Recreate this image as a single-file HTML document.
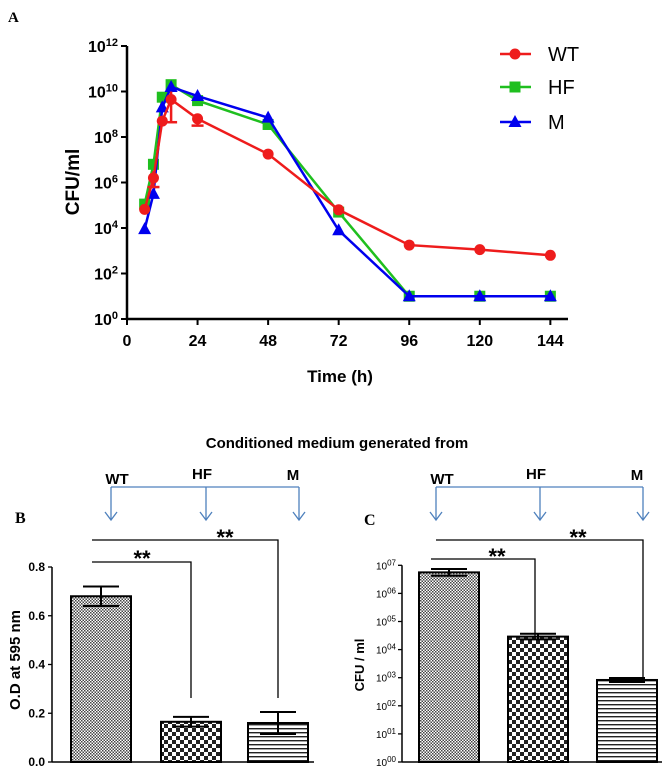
<!DOCTYPE html>
<html><head><meta charset="utf-8"><style>
body{margin:0;background:#fff;}
svg{display:block;font-family:"Liberation Sans",Arial,sans-serif;}
</style></head><body>
<svg width="672" height="769" viewBox="0 0 672 769">
<defs>
<pattern id="p1" width="3" height="3" patternUnits="userSpaceOnUse"><rect width="3" height="3" fill="#fff"/><rect width="1.5" height="1.5" fill="#444"/><rect x="1.5" y="1.5" width="1.5" height="1.5" fill="#444"/></pattern>
<pattern id="p2" width="8" height="8" patternUnits="userSpaceOnUse"><rect width="8" height="8" fill="#fff"/><rect width="4" height="4" fill="#222"/><rect x="4" y="4" width="4" height="4" fill="#222"/></pattern>
<pattern id="p3" width="6" height="4" patternUnits="userSpaceOnUse"><rect width="6" height="4" fill="#fff"/><rect width="6" height="1.4" fill="#222"/></pattern>
</defs>
<text x="8" y="22" font-family="Liberation Serif,serif" font-weight="bold" font-size="15">A</text>
<g id="chartA"></g>
<text x="15" y="523" font-family="Liberation Serif,serif" font-weight="bold" font-size="16">B</text>
<text x="364" y="525" font-family="Liberation Serif,serif" font-weight="bold" font-size="16">C</text>
<text x="337" y="448" text-anchor="middle" font-weight="bold" font-size="15">Conditioned medium generated from</text>
<g id="arrows"></g>
<g id="chartB"></g>
<g id="chartC"></g>
</svg>
<script>
// ---- Chart A data ----
const timesA=[6,9,12,15,24,48,72,96,120,144];
const wtLog=[4.82,6.2,8.7,9.65,8.8,7.25,4.8,3.25,3.05,2.8];
const hfLog=[5.05,6.8,9.75,10.3,9.6,8.55,4.7,1,1,1];
const mLog=[3.95,5.5,9.3,10.2,9.8,8.85,3.9,1,1,1];
const xTicksA=[0,24,48,72,96,120,144];
const yTicksA=[0,2,4,6,8,10,12];
// ---- Chart B data ----
const catsB=["WT","HF","M"];
const odVals=[0.68,0.165,0.16];
const odErr=[0.04,0.02,0.045];
const yTicksB=[0,0.2,0.4,0.6,0.8];
// ---- Chart C data ----
const cfuVals=[5.6e6,2.9e4,8.3e2];
const cfuErrLog=[0.12,0.1,0.07];
const yTicksC=[0,1,2,3,4,5,6,7];

const NS="http://www.w3.org/2000/svg";
function mk(p,t,a,txt){const e=document.createElementNS(NS,t);for(const k in a)e.setAttribute(k,a[k]);if(txt!==undefined)e.textContent=txt;p.appendChild(e);return e;}

// Chart A
(function(){
const g=document.getElementById('chartA');
const X=t=>127+t*2.94, Y=l=>319-l*22.75;
let e=mk(g,'line',{x1:127,y1:Y(12),x2:127,y2:319,stroke:'#000','stroke-width':2.5});

e=mk(g,'line',{x1:127,y1:319,x2:568,y2:319,stroke:'#000','stroke-width':2.5});

yTicksA.forEach(v=>{mk(g,'line',{x1:121,x2:127,y1:Y(v),y2:Y(v),stroke:'#000','stroke-width':2});
 const t=mk(g,'text',{x:118,y:Y(v)+6,'text-anchor':'end','font-weight':'bold','font-size':16});
 
 t.textContent='10';const s=mk(t,'tspan',{dy:-6,'font-size':11},String(v));});
xTicksA.forEach(v=>{mk(g,'line',{x1:X(v),x2:X(v),y1:319,y2:325,stroke:'#000','stroke-width':2});
 const t=mk(g,'text',{x:X(v),y:346,'text-anchor':'middle','font-weight':'bold','font-size':16},String(v));
 });
e=mk(g,'text',{x:340,y:382,'text-anchor':'middle','font-weight':'bold','font-size':17},'Time (h)');

e=mk(g,'text',{x:0,y:0,transform:'translate(79,182) rotate(-90)','text-anchor':'middle','font-weight':'bold','font-size':19},'CFU/ml');

const series=[[hfLog,'#1fbf1f','sq','HF'],[mLog,'#0000ee','tri','M'],[wtLog,'#ee1c1c','circ','WT']];
function marker(p,type,x,y,c){
 if(type==='circ')return mk(p,'circle',{cx:x,cy:y,r:5.5,fill:c});
 if(type==='sq')return mk(p,'rect',{x:x-5.5,y:y-5.5,width:11,height:11,fill:c});
 return mk(p,'polygon',{points:`${x},${y-7} ${x-6.5},${y+5} ${x+6.5},${y+5}`,fill:c});}
series.forEach(([d,c,m,n])=>{
 const pts=d.map((v,i)=>X(timesA[i])+','+Y(v)).join(' ');
 const pl=mk(g,'polyline',{points:pts,fill:'none',stroke:c,'stroke-width':2.5});
 
 d.forEach((v,i)=>{const mm=marker(g,m,X(timesA[i]),Y(v),c);
  });
});
// WT error bars
[[9,5.8,6.5],[15,8.65,10.0],[24,8.5,9.0]].forEach(([t,lo,hi])=>{
 mk(g,'line',{x1:X(t),x2:X(t),y1:Y(lo),y2:Y(hi),stroke:'#ee1c1c','stroke-width':2.5});
 mk(g,'line',{x1:X(t)-6,x2:X(t)+6,y1:Y(lo),y2:Y(lo),stroke:'#ee1c1c','stroke-width':2.5});});
// legend
series.slice().reverse().forEach(([d,c,m,n],i)=>{
 const y=[54,87,122][['WT','HF','M'].indexOf(n)];
 const lg=mk(g,'g',{});
 mk(lg,'line',{x1:500,x2:531,y1:y,y2:y,stroke:c,'stroke-width':2.5});
 marker(lg,m,515,y,c);
 mk(lg,'text',{x:548,y:y+7,'font-size':20},n);});
})();

// Arrows
(function(){
const g=document.getElementById('arrows');const c='#4f81bd';
[[111,206,299],[436,540,643]].forEach((xs,k)=>{
 mk(g,'line',{x1:xs[0],x2:xs[2],y1:487,y2:487,stroke:c,'stroke-width':1.3});
 xs.forEach((x,i)=>{
  const a=mk(g,'g',{});
  mk(a,'line',{x1:x,x2:x,y1:487,y2:520,stroke:c,'stroke-width':1.3});
  mk(a,'polyline',{points:`${x-6},${512} ${x},${520} ${x+6},${512}`,fill:'none',stroke:c,'stroke-width':1.3});
  const t=mk(g,'text',{x:x+[6,-4,-6][i],y:[484,479,480][i],'text-anchor':'middle','font-weight':'bold','font-size':15},catsB[i]);
  });
});})();

const pats=['url(#p1)','url(#p2)','url(#p3)'];
function sig(g,x1,x2,ytop,ybot,sx,sy){
 mk(g,'polyline',{points:`${x1},${ytop} ${x2},${ytop} ${x2},${ybot}`,fill:'none',stroke:'#000','stroke-width':1.3});
 const t=mk(g,'text',{x:sx,y:sy,'text-anchor':'middle','font-weight':'bold','font-size':22},'**');
 }

// Chart B
(function(){
const g=document.getElementById('chartB');
const Y=v=>762-v*243.75;const bx=[71,161,248],bw=60;
mk(g,'line',{x1:52,x2:52,y1:Y(0.8),y2:762,stroke:'#000','stroke-width':1.5});
mk(g,'line',{x1:52,x2:314,y1:762,y2:762,stroke:'#000','stroke-width':1.5});
yTicksB.forEach(v=>{mk(g,'line',{x1:48,x2:52,y1:Y(v),y2:Y(v),stroke:'#000','stroke-width':1.3});
 const t=mk(g,'text',{x:45,y:Y(v)+4,'text-anchor':'end','font-weight':'bold','font-size':12},v.toFixed(1));
 });
let e=mk(g,'text',{transform:'translate(20,660) rotate(-90)','text-anchor':'middle','font-weight':'bold','font-size':15},'O.D at 595 nm');

odVals.forEach((v,i)=>{
 const r=mk(g,'rect',{x:bx[i],y:Y(v),width:bw,height:762-Y(v),fill:pats[i],stroke:'#000','stroke-width':2});
 
 const cx=bx[i]+bw/2;
 mk(g,'line',{x1:cx,x2:cx,y1:Y(v-odErr[i]),y2:Y(v+odErr[i]),stroke:'#000','stroke-width':2});
 [v-odErr[i],v+odErr[i]].forEach(w=>mk(g,'line',{x1:cx-18,x2:cx+18,y1:Y(w),y2:Y(w),stroke:'#000','stroke-width':2}));});
sig(g,92,278,540,698,225,545);
sig(g,92,191,562,698,142,566);
})();

// Chart C
(function(){
const g=document.getElementById('chartC');
const Y=v=>762-Math.log10(v)*28.1, YL=l=>762-l*28.1;const bx=[419,508,597],bw=60;
mk(g,'line',{x1:402,x2:402,y1:YL(7),y2:762,stroke:'#000','stroke-width':1.5});
mk(g,'line',{x1:402,x2:662,y1:762,y2:762,stroke:'#000','stroke-width':1.5});
yTicksC.forEach(v=>{mk(g,'line',{x1:398,x2:402,y1:YL(v),y2:YL(v),stroke:'#000','stroke-width':1.3});
 const t=mk(g,'text',{x:396,y:YL(v)+4,'text-anchor':'end','font-size':10});
 
 t.textContent='10';mk(t,'tspan',{dy:-4,'font-size':8},'0'+v);});
let e=mk(g,'text',{transform:'translate(364,665) rotate(-90)','text-anchor':'middle','font-weight':'bold','font-size':13},'CFU / ml');

cfuVals.forEach((v,i)=>{
 const r=mk(g,'rect',{x:bx[i],y:Y(v),width:bw,height:762-Y(v),fill:pats[i],stroke:'#000','stroke-width':2});
 
 const cx=bx[i]+bw/2,l=Math.log10(v);
 mk(g,'line',{x1:cx,x2:cx,y1:YL(l-cfuErrLog[i]),y2:YL(l+cfuErrLog[i]),stroke:'#000','stroke-width':2});
 [l-cfuErrLog[i],l+cfuErrLog[i]].forEach(w=>mk(g,'line',{x1:cx-18,x2:cx+18,y1:YL(w),y2:YL(w),stroke:'#000','stroke-width':2}));});
sig(g,436,643,540,680,578,545);
sig(g,431,535,559,636,497,564);
})();
</script>
</body></html>
